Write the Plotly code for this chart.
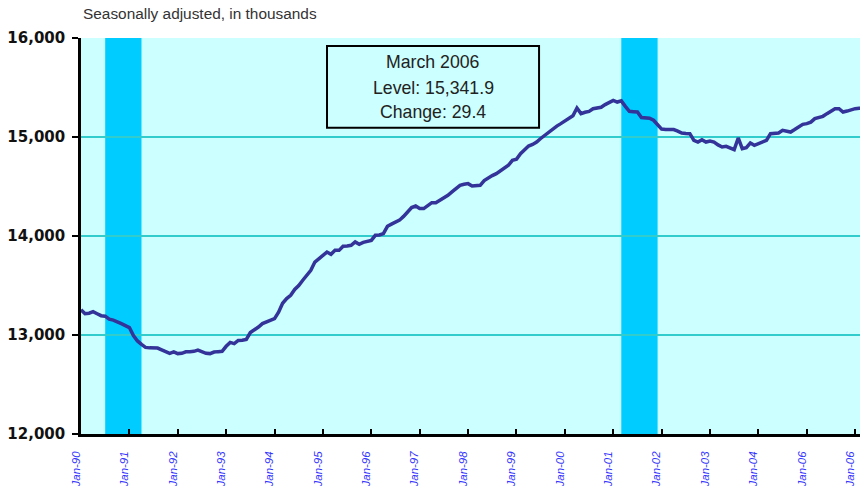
import plotly.graph_objects as go

# Monthly employment, Jan 1990 - Mar 2006 (thousands, seasonally adjusted)
values_1990 = [13256, 13215, 13220, 13235, 13215, 13195, 13190, 13160, 13150, 13135, 13115, 13095]
values_1991 = [13075, 12995, 12940, 12905, 12875, 12870, 12870, 12868, 12850, 12835, 12815, 12830]
values_1992 = [12812, 12815, 12830, 12832, 12835, 12848, 12832, 12815, 12812, 12828, 12832, 12835]
values_1993 = [12886, 12925, 12913, 12945, 12948, 12955, 13025, 13050, 13081, 13115, 13130, 13145]
values_1994 = [13166, 13230, 13320, 13368, 13401, 13460, 13500, 13553, 13600, 13653, 13737, 13771]
values_1995 = [13800, 13838, 13815, 13855, 13855, 13896, 13900, 13906, 13940, 13916, 13935, 13946]
values_1996 = [13956, 14007, 14010, 14024, 14098, 14120, 14141, 14160, 14198, 14240, 14287, 14303]
values_1997 = [14277, 14277, 14310, 14337, 14337, 14360, 14385, 14411, 14445, 14480, 14512, 14522]
values_1998 = [14529, 14505, 14505, 14512, 14560, 14590, 14610, 14630, 14660, 14681, 14714, 14764]
values_1999 = [14775, 14832, 14870, 14909, 14925, 14949, 14985, 15017, 15050, 15084, 15110, 15135]
values_2000 = [15165, 15186, 15215, 15293, 15236, 15250, 15259, 15285, 15293, 15300, 15327, 15345]
values_2001 = [15370, 15353, 15365, 15310, 15259, 15255, 15252, 15196, 15192, 15190, 15169, 15118]
values_2002 = [15080, 15075, 15075, 15075, 15060, 15040, 15035, 15034, 14966, 14949, 14973, 14949]
values_2003 = [14960, 14949, 14920, 14899, 14906, 14885, 14872, 14990, 14882, 14893, 14939, 14916]
values_2004 = [14935, 14950, 14966, 15034, 15035, 15040, 15067, 15060, 15050, 15075, 15100, 15128]
values_2005 = [15135, 15150, 15186, 15200, 15209, 15236, 15260, 15286, 15286, 15252, 15262, 15275]
values_2006 = [15286, 15290, 15290]

employment = (values_1990 + values_1991 + values_1992 + values_1993 + values_1994 +
              values_1995 + values_1996 + values_1997 + values_1998 + values_1999 +
              values_2000 + values_2001 + values_2002 + values_2003 + values_2004 +
              values_2005 + values_2006)
month_index = list(range(len(employment)))

# Tick labels as printed in the original (note the repeated "Jan-06")
tick_labels = ["Jan-90", "Jan-91", "Jan-92", "Jan-93", "Jan-94", "Jan-95", "Jan-96",
               "Jan-97", "Jan-98", "Jan-99", "Jan-00", "Jan-01", "Jan-02", "Jan-03",
               "Jan-04", "Jan-06", "Jan-06"]
tick_positions = [12 * i for i in range(len(tick_labels))]

# Recession periods (month index start/end)
recession_start = [6, 134]
recession_end = [15, 143]

y_ticks = [12000, 13000, 14000, 15000, 16000]
y_tick_text = ["12,000", "13,000", "14,000", "15,000", "16,000"]

annotation_lines = ["March 2006", "Level: 15,341.9", "Change: 29.4"]
subtitle = "Seasonally adjusted, in thousands"

fig = go.Figure()
fig.add_trace(go.Scatter(
    x=month_index, y=employment, mode="lines",
    line=dict(color="#333399", width=3.5),
    hoverinfo="skip", showlegend=False,
))

for s, e in zip(recession_start, recession_end):
    fig.add_shape(type="rect", xref="x", yref="paper", x0=s, x1=e, y0=0, y1=1,
                  fillcolor="#00CCFF", line=dict(width=0), layer="between")

# annotation box
fig.add_shape(type="rect", xref="paper", yref="paper",
              x0=0.3158, x1=0.588, y0=0.7735, y1=0.980,
              fillcolor="rgba(0,0,0,0)", line=dict(color="black", width=2), layer="above")
for txt, yy in zip(annotation_lines, [0.940, 0.873, 0.814]):
    fig.add_annotation(text=txt, xref="paper", yref="paper", x=0.452, y=yy,
                       xanchor="center", yanchor="middle", showarrow=False,
                       font=dict(family="Liberation Sans", size=17.7, color="#222222"))

fig.add_annotation(text=subtitle, xref="paper", yref="paper", x=0.0, y=1.063,
                   xanchor="left", yanchor="middle", showarrow=False,
                   font=dict(family="Liberation Sans", size=15.4, color="#333333"))

fig.update_layout(
    width=860, height=486,
    margin=dict(l=81, r=0, t=38, b=52, autoexpand=False),
    paper_bgcolor="white",
    plot_bgcolor="#CCFFFF",
    showlegend=False,
    xaxis=dict(
        range=[0, 193.2],
        tickmode="array", tickvals=tick_positions, ticktext=tick_labels,
        tickangle=-90,
        tickfont=dict(family="Liberation Sans", size=11.5, color="#3333FF", style="italic"),
        ticks="inside", ticklen=5, tickwidth=2, tickcolor="black",
        showline=True, linecolor="black", linewidth=2.5,
        showgrid=False, zeroline=False,
        ticklabelstandoff=10,
        ticklabelshift=-5,
        ticklabeloverflow="allow",
        automargin=False,
    ),
    yaxis=dict(
        range=[12000, 16000],
        tickmode="array", tickvals=y_ticks, ticktext=y_tick_text,
        tickfont=dict(family="DejaVu Sans", size=15, color="#111111", weight="bold"),
        ticks="outside", ticklen=6, tickwidth=2, tickcolor="black",
        showline=True, linecolor="black", linewidth=2.5,
        showgrid=True, gridcolor="#33CCCC", gridwidth=2,
        zeroline=False,
        ticklabelstandoff=4,
        automargin=False,
    ),
)

# remove the page's default body margin so the 860x486 figure fills the window
fig.write_html("out.html", config={"displayModeBar": False},
               post_script="document.body.style.margin='0';document.body.style.overflow='hidden';")
